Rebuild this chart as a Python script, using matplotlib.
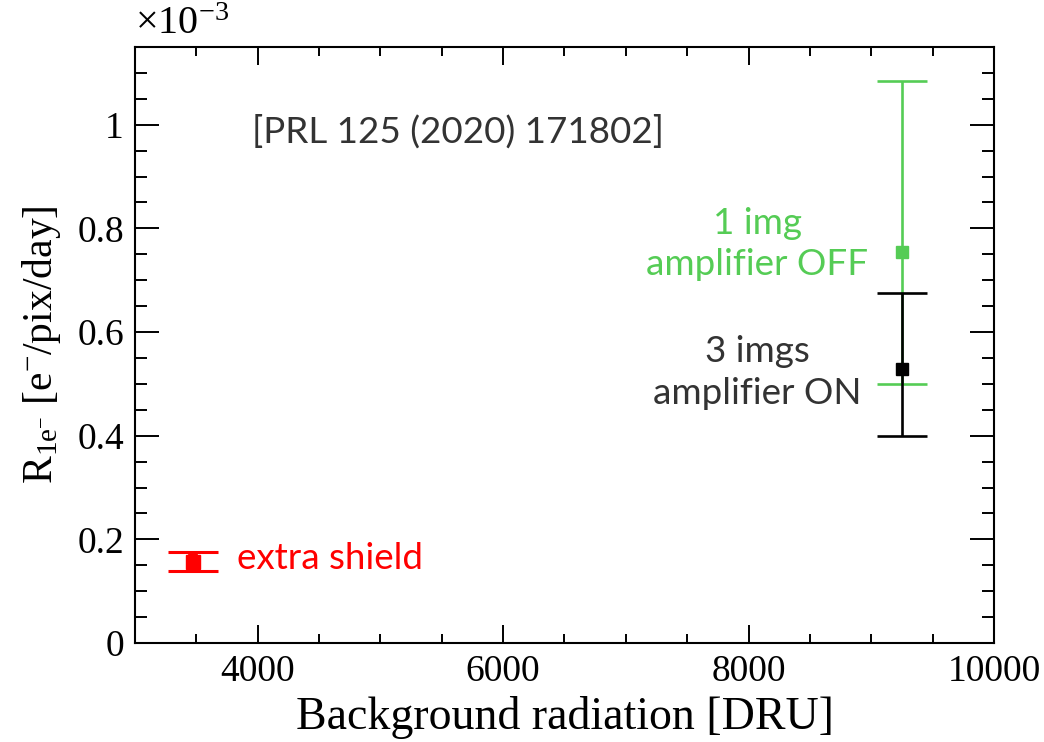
import matplotlib.pyplot as plt
from matplotlib.ticker import MultipleLocator, FuncFormatter

# rates in units of 1e-3 e-/pix/day
labels = ['3 imgs\namplifier ON', '1 img\namplifier OFF', 'extra shield']
dru = [9250, 9250, 3470]
rate = [0.528, 0.755, 0.157]
err_lo = [0.128, 0.256, 0.018]
err_hi = [0.148, 0.330, 0.018]

plt.rcParams['mathtext.fontset'] = 'custom'
plt.rcParams['mathtext.rm'] = 'Liberation Serif'
plt.rcParams['mathtext.it'] = 'Liberation Serif'
serif = 'Liberation Serif'
green = '#55cc55'
dark = '#333333'

fig = plt.figure(figsize=(10.44, 7.42), dpi=100)
ax = fig.add_axes([0.1293, 0.1334, 0.8228, 0.8033])

# black: 3 imgs, amplifier ON
ax.errorbar(dru[0], rate[0], yerr=[[err_lo[0]], [err_hi[0]]], fmt='s', color='black',
            ms=9, elinewidth=1.9, capsize=18, capthick=1.9, zorder=3)
# green: 1 img, amplifier OFF
ax.errorbar(dru[1], rate[1], yerr=[[err_lo[1]], [err_hi[1]]], fmt='s', color=green,
            ms=9, elinewidth=1.9, capsize=18, capthick=1.9, zorder=2)
# red: extra shield
ax.errorbar(dru[2], rate[2], yerr=[[err_lo[2]], [err_hi[2]]], fmt='s', color='red',
            ms=10, elinewidth=7, capsize=18, capthick=2.2, zorder=3)

ax.set_xlim(3000, 10000)
ax.set_ylim(0, 1.15)
ax.xaxis.set_major_locator(MultipleLocator(2000))
ax.xaxis.set_minor_locator(MultipleLocator(500))
ax.yaxis.set_major_locator(MultipleLocator(0.2))
ax.yaxis.set_minor_locator(MultipleLocator(0.05))
ax.yaxis.set_major_formatter(FuncFormatter(lambda v, p: f'{v:g}'))
ax.xaxis.set_major_formatter(FuncFormatter(lambda v, p: f'{v:g}'))

ax.tick_params(which='both', direction='in', top=True, right=True, width=1.4,
               labelsize=27, pad=8)
ax.tick_params(axis='x', which='major', length=13)
ax.tick_params(axis='x', which='minor', length=6.5)
ax.tick_params(axis='y', which='major', length=17)
ax.tick_params(axis='y', which='minor', length=8.5)
for lab in ax.get_xticklabels() + ax.get_yticklabels():
    lab.set_family(serif)
for s in ax.spines.values():
    s.set_linewidth(1.5)

ax.set_xlabel('Background radiation [DRU]', fontsize=33, family=serif, labelpad=5)
ax.set_ylabel(r'R$_{\mathregular{1e}^{-}}$ [e$^{-}$/pix/day]', fontsize=30, family=serif, labelpad=10)
fig.text(0.1293, 0.942, r'$\times$10$^{-3}$', fontsize=29, family=serif, ha='left', va='bottom')

ax.text(0.136, 0.858, '[PRL 125 (2020) 171802]', transform=ax.transAxes, fontsize=26.5,
        family='Lato', color=dark, ha='left', va='center')
ax.text(8976, 0.769, labels[1], fontsize=26.5, family='Lato', color=green,
        ha='right', va='center', multialignment='center', linespacing=1.3)
ax.text(8918, 0.522, labels[0], fontsize=26.5, family='Lato', color=dark,
        ha='right', va='center', multialignment='center', linespacing=1.3)
ax.text(3830, rate[2] + 0.006, labels[2], fontsize=26.5, family='Lato', color='red',
        ha='left', va='center')

fig.savefig('out.png', dpi=100)
